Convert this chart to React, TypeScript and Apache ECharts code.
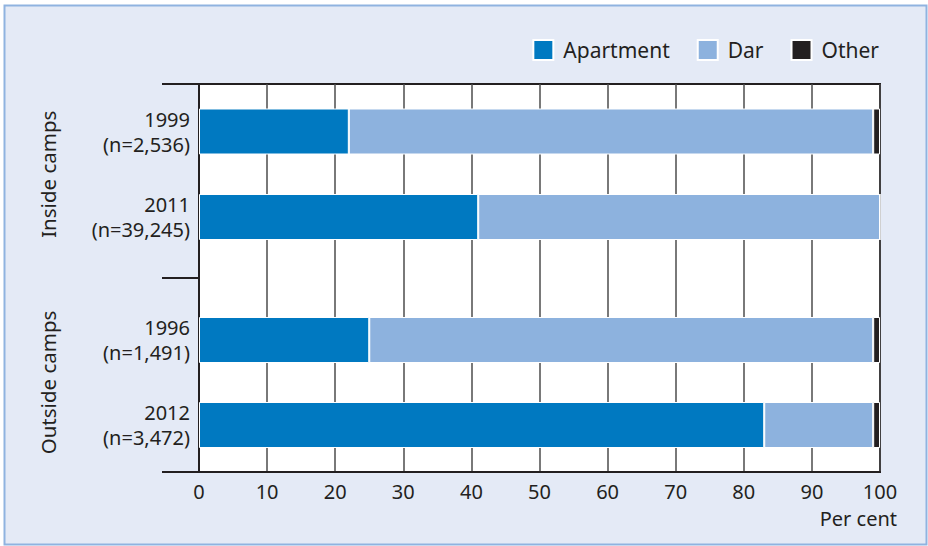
import React, { useEffect, useRef } from "react";
import * as echarts from "echarts";

// ---- data ----
const seriesNames = ["Apartment", "Dar", "Other"];
const groupNames = ["Inside camps", "Outside camps"];
const insideCategories = ["1999\n(n=2,536)", "2011\n(n=39,245)"];
const outsideCategories = ["1996\n(n=1,491)", "2012\n(n=3,472)"];
const insideApartment = [22, 41];
const insideDar = [77, 59];
const insideOther = [1, 0];
const outsideApartment = [25, 83];
const outsideDar = [74, 16];
const outsideOther = [1, 1];
const xAxisName = "Per cent";

const colors = ["#0079c1", "#8db2de", "#231f20"];
const ink = "#231f20";
const FONT = "Noto Sans";

export default function App() {
  const ref = useRef<HTMLDivElement>(null);
  useEffect(() => {
    if (!ref.current) return;
    const chart = echarts.init(ref.current, undefined, { renderer: "svg" });
    const barGrid = (top: number, height: number) => ({ left: 199, right: 48, top, height });
    const groupData = [
      [insideApartment, insideDar, insideOther],
      [outsideApartment, outsideDar, outsideOther],
    ];
    const series: any[] = [];
    groupData.forEach((g, gi) => {
      g.forEach((vals, si) => {
        series.push({
          type: "bar",
          name: seriesNames[si],
          xAxisIndex: gi + 1,
          yAxisIndex: gi + 1,
          stack: "total" + gi,
          barWidth: 46,
          data: vals,
          itemStyle: { color: colors[si], borderColor: "#ffffff", borderWidth: 1 },
          emphasis: { disabled: true },
        });
      });
    });
    const catAxis = (gi: number, data: string[]) => ({
      type: "category",
      gridIndex: gi + 1,
      data,
      inverse: true,
      axisLine: { show: false },
      axisTick: { show: false },
      axisLabel: { margin: 9, fontSize: 20, lineHeight: 25, color: ink, fontFamily: FONT },
      name: groupNames[gi],
      nameLocation: "middle",
      nameRotate: 90,
      nameGap: 141,
      nameTextStyle: { fontSize: 20.5, color: ink, fontFamily: FONT },
    });
    const hiddenX = (gi: number) => ({ type: "value", gridIndex: gi + 1, min: 0, max: 100, show: false });
    chart.setOption({
      animation: false,
      textStyle: { fontFamily: FONT },
      graphic: [
        {
          type: "rect",
          z: -10,
          shape: { x: 4.5, y: 5.5, width: 922, height: 539 },
          style: { fill: "#e4eaf6", stroke: "#8fb3e0", lineWidth: 2 },
        },
        {
          type: "text",
          x: 897,
          y: 518,
          style: {
            text: xAxisName,
            fill: ink,
            font: `20px "${FONT}"`,
            align: "right",
            verticalAlign: "middle",
          },
        },
      ],
      legend: {
        data: seriesNames,
        right: 44,
        top: 34,
        icon: "rect",
        itemWidth: 20,
        itemHeight: 20,
        itemGap: 27,
        textStyle: { fontSize: 21, color: ink, fontFamily: FONT, padding: [0, 0, 0, 5] },
      },
      grid: [
        { left: 199, right: 48, top: 84, bottom: 74, show: true, backgroundColor: "#ffffff", borderColor: ink, borderWidth: 2 },
        barGrid(88.75, 171),
        barGrid(297.5, 170),
      ],
      xAxis: [
        {
          type: "value",
          gridIndex: 0,
          min: 0,
          max: 100,
          interval: 10,
          axisLine: { show: true, lineStyle: { color: ink, width: 2 } },
          axisTick: { show: false },
          axisLabel: { fontSize: 20, color: ink, margin: 9, fontFamily: FONT },
          splitLine: { show: true, lineStyle: { color: "#4d4d4d", width: 1.5 } },
        },
        hiddenX(0),
        hiddenX(1),
      ],
      yAxis: [
        {
          type: "category",
          gridIndex: 0,
          data: groupNames,
          inverse: true,
          axisLine: { show: true, lineStyle: { color: ink, width: 2 } },
          axisTick: { show: true, length: 37, lineStyle: { color: ink, width: 2 } },
          axisLabel: { show: false },
        },
        catAxis(0, insideCategories),
        catAxis(1, outsideCategories),
      ],
      series,
    });
    return () => chart.dispose();
  }, []);
  return (
    <div
      ref={ref}
      style={{ position: "fixed", left: 0, top: 0, width: 928, height: 546, background: "#ffffff" }}
    />
  );
}
